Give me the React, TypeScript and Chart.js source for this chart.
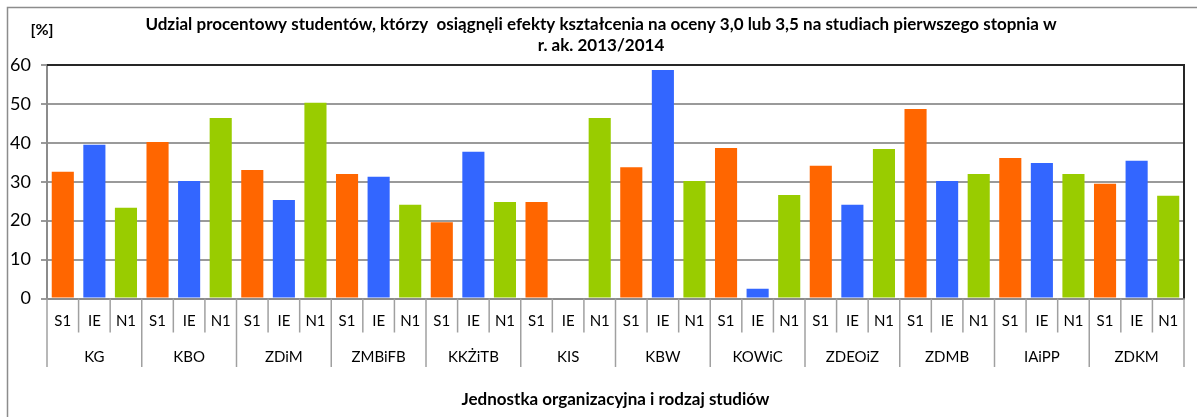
import React, { useEffect, useRef } from "react";
import { Chart, registerables } from "chart.js";

Chart.register(...registerables);

const groups = ["KG", "KBO", "ZDiM", "ZMBiFB", "KKŻiTB", "KIS", "KBW", "KOWiC", "ZDEOiZ", "ZDMB", "IAiPP", "ZDKM"];
const studyTypes = ["S1", "IE", "N1"];
const s1Values = [32.6, 40.2, 33.0, 32.0, 19.6, 24.8, 33.7, 38.7, 34.1, 48.7, 36.1, 29.5];
const ieValues = [39.5, 30.2, 25.3, 31.3, 37.7, null, 58.7, 2.5, 24.1, 30.2, 34.8, 35.4];
const n1Values = [23.3, 46.4, 50.3, 24.1, 24.8, 46.4, 30.2, 26.6, 38.4, 32.0, 32.0, 26.4];
const yMin = 0;
const yMax = 60;
const yStep = 10;
const titleLines = [
  "Udzial procentowy studentów, którzy  osiągnęli efekty kształcenia na oceny 3,0 lub 3,5 na studiach pierwszego stopnia w",
  "r. ak. 2013/2014",
];
const yUnit = "[%]";
const xTitle = "Jednostka organizacyjna i rodzaj studiów";

const typeColors = ["#FF6600", "#3366FF", "#99CC00"];
const FONT = "Lato";

const seriesByType = [s1Values, ieValues, n1Values];
const labels: string[] = [];
const values: (number | null)[] = [];
const colors: string[] = [];
groups.forEach((g, gi) => {
  studyTypes.forEach((t, ti) => {
    labels.push(t);
    values.push(seriesByType[ti][gi]);
    colors.push(typeColors[ti]);
  });
});

const decorPlugin = {
  id: "decor",
  beforeDraw(chart: any) {
    const ctx = chart.ctx;
    ctx.save();
    ctx.fillStyle = "#ffffff";
    ctx.fillRect(0, 0, chart.width, chart.height);
    ctx.strokeStyle = "#8c8c8c";
    ctx.lineWidth = 1.5;
    ctx.strokeRect(7.5, 7.5, chart.width + 20, chart.height + 20);
    ctx.restore();
  },
  afterDraw(chart: any) {
    const { ctx, chartArea, scales } = chart;
    const x = scales.x;
    ctx.save();
    // plot frame (top + right)
    ctx.strokeStyle = "#262626";
    ctx.lineWidth = 2;
    ctx.beginPath();
    ctx.moveTo(chartArea.left, chartArea.top);
    ctx.lineTo(chartArea.right, chartArea.top);
    ctx.lineTo(chartArea.right, chartArea.bottom);
    ctx.stroke();

    // category / group separators
    const n = labels.length;
    ctx.strokeStyle = "#a0a0a0";
    ctx.lineWidth = 1.5;
    for (let i = 0; i <= n; i++) {
      let px: number;
      if (i === 0) px = chartArea.left;
      else if (i === n) px = chartArea.right;
      else px = (x.getPixelForValue(i - 1) + x.getPixelForValue(i)) / 2;
      const isGroup = i % studyTypes.length === 0;
      ctx.beginPath();
      ctx.moveTo(px, chartArea.bottom);
      ctx.lineTo(px, chartArea.bottom + (isGroup ? 68.5 : 34));
      ctx.stroke();
    }

    // group labels
    ctx.fillStyle = "#000";
    ctx.font = `15px ${FONT}`;
    ctx.textAlign = "center";
    ctx.textBaseline = "middle";
    groups.forEach((g, gi) => {
      const first = x.getPixelForValue(gi * studyTypes.length);
      const last = x.getPixelForValue(gi * studyTypes.length + studyTypes.length - 1);
      ctx.fillText(g, (first + last) / 2, chartArea.bottom + 59);
    });

    // unit label
    ctx.font = `bold 16px ${FONT}`;
    ctx.fillText(yUnit, 42, 30);
    ctx.restore();
  },
};

export default function App() {
  const canvasRef = useRef<HTMLCanvasElement | null>(null);

  useEffect(() => {
    if (!canvasRef.current) return;
    const chart = new Chart(canvasRef.current, {
      type: "bar",
      data: {
        labels,
        datasets: [
          {
            data: values,
            backgroundColor: colors,
            borderWidth: 0,
            barPercentage: 0.7,
            categoryPercentage: 1,
          },
        ],
      },
      options: {
        responsive: false,
        animation: false,
        devicePixelRatio: 1,
        layout: { padding: { left: 5, right: 0, top: 0, bottom: 0 } },
        plugins: {
          legend: { display: false },
          tooltip: { enabled: false },
          title: {
            display: true,
            text: titleLines,
            color: "#000",
            font: { family: FONT, size: 17, weight: "bold", lineHeight: 1.235 },
            padding: { top: 14.5, bottom: 8.5 },
          },
        },
        scales: {
          x: {
            type: "category",
            grid: { display: false, drawTicks: false },
            border: { color: "#8c8c8c", width: 2 },
            ticks: {
              color: "#000",
              font: { family: FONT, size: 15 },
              padding: 14,
              maxRotation: 0,
              autoSkip: false,
            },
            title: {
              display: true,
              text: xTitle,
              color: "#000",
              font: { family: FONT, size: 17, weight: "bold" },
              padding: { top: 44.6, bottom: 7.5 },
            },
          },
          y: {
            min: yMin,
            max: yMax,
            afterFit(scale: any) {
              scale.width = 42;
            },
            grid: { color: "#9a9a9a", lineWidth: 2, tickLength: 6, drawTicks: true },
            border: { color: "#8c8c8c", width: 2 },
            ticks: {
              stepSize: yStep,
              color: "#000",
              font: { family: FONT, size: 18 },
              padding: 10,
            },
          },
          yRight: {
            type: "linear",
            position: "right",
            display: true,
            min: 0,
            max: 1,
            afterFit(scale: any) {
              scale.width = 13;
            },
            grid: { display: false, drawOnChartArea: false, drawTicks: false },
            border: { display: false },
            ticks: { display: false },
          },
        },
      },
      plugins: [decorPlugin],
    });
    return () => chart.destroy();
  }, []);

  return (
    <div style={{ position: "absolute", left: 0, top: 0, width: 1197, height: 417 }}>
      <canvas ref={canvasRef} width={1197} height={417} style={{ display: "block" }} />
    </div>
  );
}
